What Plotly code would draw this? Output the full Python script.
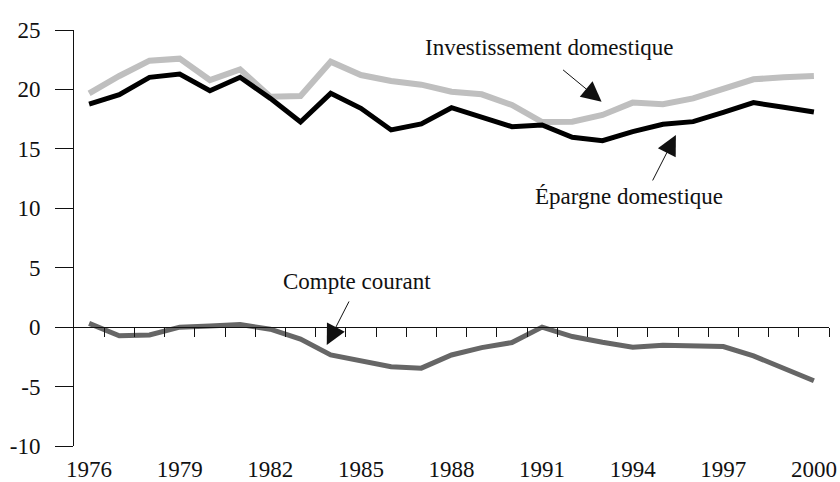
import plotly.graph_objects as go

years = list(range(1976, 2001))
investissement = [19.67, 21.13, 22.42, 22.59, 20.79, 21.69, 19.39, 19.45, 22.33, 21.21,
                  20.71, 20.40, 19.81, 19.59, 18.69, 17.26, 17.29, 17.85, 18.89, 18.75,
                  19.25, 20.09, 20.85, 21.02, 21.13]
epargne = [18.77, 19.56, 21.02, 21.30, 19.89, 21.02, 19.25, 17.26, 19.67, 18.41,
           16.59, 17.10, 18.46, 17.71, 16.87, 17.01, 15.97, 15.69, 16.45, 17.07,
           17.29, 18.07, 18.89, 18.50, 18.10]
compte = [0.32, -0.72, -0.66, 0.00, 0.10, 0.22, -0.17, -1.01, -2.34, -2.82,
          -3.33, -3.45, -2.34, -1.72, -1.30, 0.00, -0.79, -1.27, -1.69, -1.52,
          -1.55, -1.63, -2.42, -3.46, -4.51]

x_labels = years[::3]
y_ticks = [-10, -5, 0, 5, 10, 15, 20, 25]
y_ticktext = ["-10", "-5", "0", "5", "10", "15", "20", "25"]

FONT = "Liberation Serif"
FS = 23

fig = go.Figure()
fig.add_trace(go.Scatter(x=years, y=investissement, mode="lines",
                         line=dict(color="#bfbfbf", width=6), name="Investissement domestique"))
fig.add_trace(go.Scatter(x=years, y=epargne, mode="lines",
                         line=dict(color="#000000", width=5), name="Épargne domestique"))
fig.add_trace(go.Scatter(x=years, y=compte, mode="lines",
                         line=dict(color="#666666", width=5), name="Compte courant"))
# invisible trace to bind the zero-line axis
fig.add_trace(go.Scatter(x=[years[0]], y=[0], mode="markers", marker=dict(opacity=0),
                         xaxis="x2", hoverinfo="skip", showlegend=False))

xr = [years[0] - 0.5, years[-1] + 0.5]
yr = [-10, 25]
zero_pos = (0 - yr[0]) / (yr[1] - yr[0])

fig.update_layout(
    width=840, height=482,
    margin=dict(l=74, r=11, t=30, b=36, autoexpand=False),
    paper_bgcolor="white", plot_bgcolor="white",
    showlegend=False,
    font=dict(family=FONT, size=FS, color="#111111"),
    xaxis=dict(range=xr, tickmode="array", tickvals=x_labels,
               ticktext=[str(v) for v in x_labels], ticks="", showline=False,
               showgrid=False, zeroline=False, ticklabelstandoff=7, automargin=False,
               tickfont=dict(family=FONT, size=FS, color="#111111")),
    xaxis2=dict(range=xr, overlaying="x", anchor="free", position=zero_pos,
                tickmode="array", tickvals=[y + 0.5 for y in years],
                ticks="outside", ticklen=9, tickwidth=1, tickcolor="#111111",
                showline=True, linecolor="#111111", linewidth=1, automargin=False,
                showticklabels=False, showgrid=False, zeroline=False),
    yaxis=dict(range=yr, tickmode="array", tickvals=y_ticks, ticktext=y_ticktext,
               ticks="outside", ticklen=18, tickwidth=1, tickcolor="#111111",
               showline=True, linecolor="#111111", linewidth=1, automargin=False,
               showgrid=False, zeroline=False, ticklabelstandoff=10,
               tickfont=dict(family=FONT, size=FS, color="#111111")),
)

# labels
fig.add_annotation(x=1991.23, y=23.57, text="Investissement domestique", showarrow=False,
                   font=dict(family=FONT, size=FS, color="#111111"))
fig.add_annotation(x=1993.88, y=11.03, text="Épargne domestique", showarrow=False,
                   font=dict(family=FONT, size=FS, color="#111111"))
fig.add_annotation(x=1984.87, y=3.8, text="Compte courant", showarrow=False,
                   font=dict(family=FONT, size=FS, color="#111111"))

# arrows
arrow_style = dict(showarrow=True, arrowhead=2, arrowsize=4, arrowwidth=1,
                   arrowcolor="#111111", text="", standoff=0)
fig.add_annotation(x=1992.97, y=18.97, ax=-40, ay=-33, **arrow_style)
fig.add_annotation(x=1995.43, y=16.17, ax=-24, ay=47, **arrow_style)
fig.add_annotation(x=1983.87, y=-1.5, ax=23, ay=-45, **arrow_style)

fig.write_html("out.html",
               config={"displayModeBar": False},
               post_script="document.body.style.margin='0';document.body.style.overflow='hidden';")
